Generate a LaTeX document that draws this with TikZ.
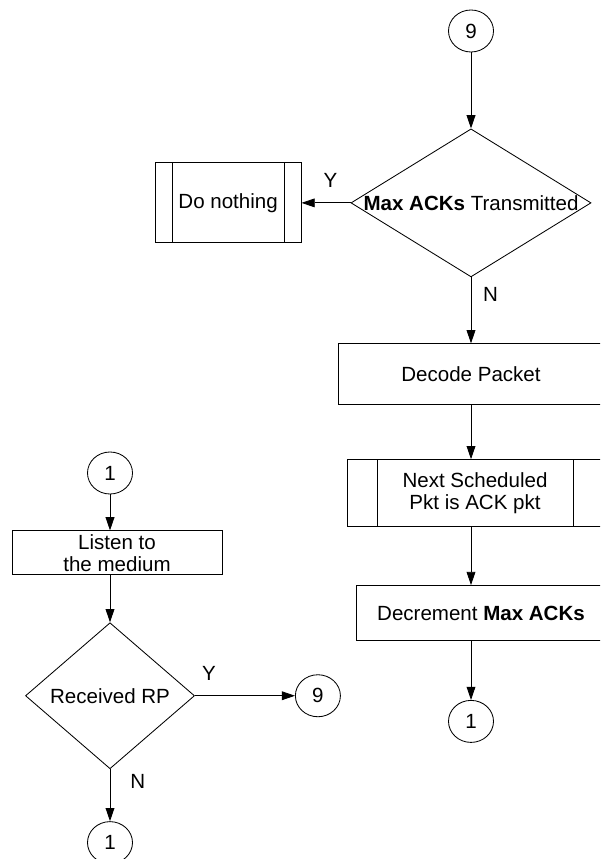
\documentclass[tikz,border=0pt]{standalone}
\usepackage{fontspec}
\setmainfont{Liberation Sans}
\usetikzlibrary{arrows.meta,positioning,shapes.geometric}

\begin{document}
\begin{tikzpicture}[
    x=0.025cm, y=-0.025cm,
    line width=0.6pt,
    font=\fontsize{14.6}{15.6}\selectfont,
    proc/.style={draw, rectangle, align=center, inner sep=0pt},
    subproc/.style={proc, path picture={
        \draw ([xshift=#1]path picture bounding box.north west) -- ([xshift=#1]path picture bounding box.south west)
              ([xshift=-#1]path picture bounding box.north east) -- ([xshift=-#1]path picture bounding box.south east);}},
    subproc/.default=0.425cm,
    decision/.style={draw, diamond, inner sep=0pt},
    conn/.style={draw, ellipse, inner sep=0pt, minimum width=1.125cm, minimum height=1.05cm},
    lbl/.style={inner sep=0pt},
    flow/.style={-{Triangle[length=0.33cm, width=0.22cm]}}
]
\path[use as bounding box, clip] (0,0) rectangle (600,859);

% right hand branch
\node[conn] (goto) at (471,31) {9};
\node[decision, below=1.9cm of goto, minimum width=6cm, minimum height=3.7cm,
      label={center:\textbf{Max ACKs} Transmitted}] (maxack) {};
\node[subproc, left=1.225cm of maxack, minimum width=3.65cm, minimum height=2cm] (nothing) {Do nothing};
\node[proc, below=1.65cm of maxack, minimum width=6.65cm, minimum height=1.525cm] (decode) {Decode Packet};
\node[subproc=0.75cm, below=1.35cm of decode, xshift=0.1cm, minimum width=6.4cm, minimum height=1.675cm] (nextack) {Next Scheduled\\Pkt is ACK pkt};
\node[proc, below=1.45cm of nextack, xshift=0.15cm, minimum width=6.25cm, minimum height=1.375cm] (decmax) {Decrement \textbf{Max ACKs}};
\node[conn, below=1.475cm of decmax, xshift=-0.25cm] (back) {1};

\draw[flow] (goto) -- (maxack);
\draw[flow] (maxack) -- node[lbl, pos=.41, above=0.375cm] {Y} (nothing);
\draw[flow] (maxack) -- node[lbl, pos=.26, right=0.29cm] {N} (decode);
\draw[flow] (decode) -- (decode |- nextack.north);
\draw[flow] (decode |- nextack.south) -- (decode |- decmax.north);
\draw[flow] (back |- decmax.south) -- (back);

% left hand branch
\node[conn] (start) at (110,473) {1};
\node[proc, below=0.9cm of start, xshift=0.175cm, minimum width=5.25cm, minimum height=1.1cm] (listen) {Listen to\\the medium};
\node[decision, below=1.175cm of listen, xshift=-0.175cm, minimum width=4.225cm, minimum height=3.65cm,
      label={center:Received RP}] (gotrp) {};
\node[conn, right=2.5cm of gotrp] (jump) {9};
\node[conn, below=1.3cm of gotrp] (again) {1};

\draw[flow] (start) -- (start |- listen.north);
\draw[flow] (start |- listen.south) -- (gotrp);
\draw[flow] (gotrp) -- node[lbl, pos=.14, above=0.375cm] {Y} (jump);
\draw[flow] (gotrp) -- node[lbl, pos=.23, right=0.5cm] {N} (again);
\end{tikzpicture}
\end{document}
